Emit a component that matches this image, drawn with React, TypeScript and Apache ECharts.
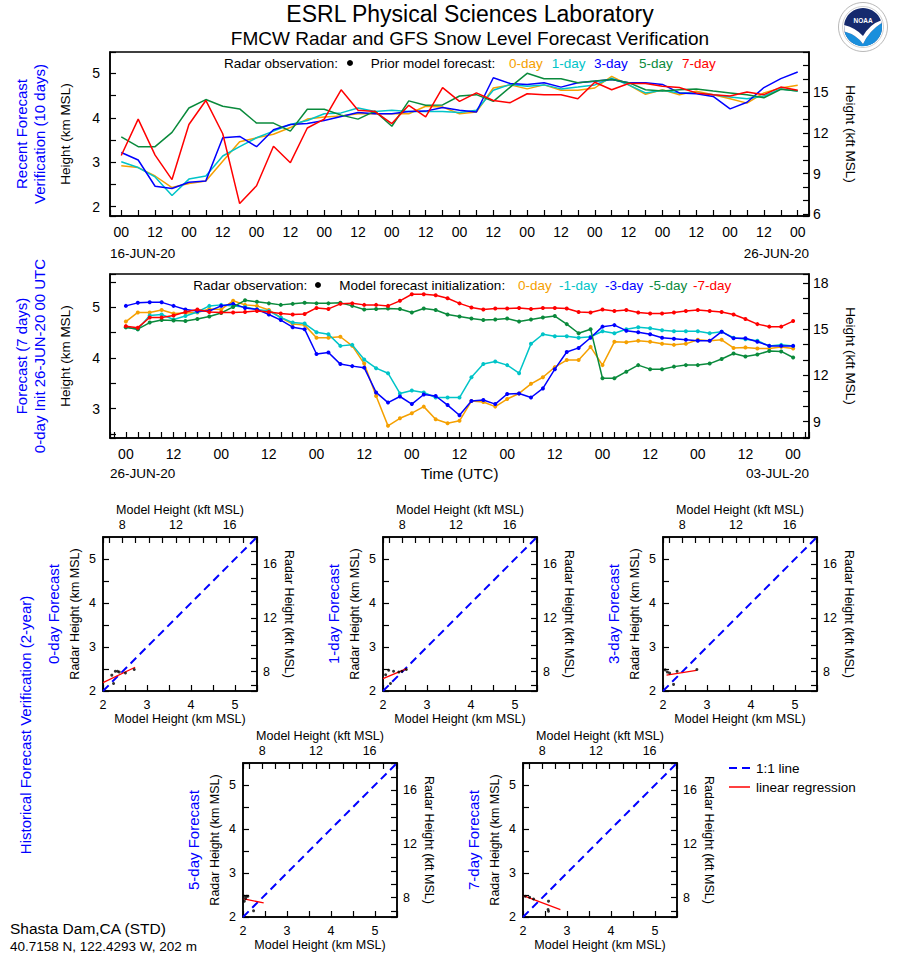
import React, { useEffect, useRef } from 'react';
import * as echarts from 'echarts';

const KFT_PER_KM = 3.28084;
const FONT = '"Liberation Sans", Arial, Helvetica, sans-serif';

// ---------- Recent forecast verification: 16-JUN-20 00 .. 26-JUN-20 00, one value every 6 h
const recentStepHours = 6;
const recentDay0 = [2.92, 2.88, 2.69, 2.43, 2.52, 2.58, 3.02, 3.46, 3.55, 3.63, 3.78, 3.97, 4.02, 4.04, 4.09, 4.09, 4.09, 4.09, 4.26, 4.24, 4.09, 4.13, 4.67, 4.74, 4.65, 4.74, 4.62, 4.62, 4.67, 4.93, 4.74, 4.53, 4.63, 4.52, 4.6, 4.52, 4.43, 4.33, 4.56, 4.67, 4.73];
const recentDay1 = [3.01, 2.88, 2.67, 2.25, 2.62, 2.69, 3.14, 3.35, 3.55, 3.7, 3.85, 3.94, 4.09, 4.11, 4.22, 4.14, 4.17, 4.14, 4.14, 4.14, 4.12, 4.17, 4.62, 4.75, 4.71, 4.74, 4.65, 4.69, 4.74, 4.89, 4.74, 4.56, 4.62, 4.56, 4.56, 4.52, 4.47, 4.43, 4.49, 4.65, 4.6];
const recentDay3 = [3.22, 3.05, 2.46, 2.41, 2.55, 2.58, 3.55, 3.58, 3.35, 3.73, 3.85, 3.87, 3.94, 4.03, 4.12, 4.09, 4.09, 4.14, 4.15, 4.23, 4.17, 4.13, 4.9, 4.77, 4.75, 4.79, 4.69, 4.79, 4.82, 4.86, 4.79, 4.79, 4.75, 4.56, 4.54, 4.48, 4.2, 4.35, 4.68, 4.88, 5.03];
const recentDay5 = [3.57, 3.35, 3.35, 3.67, 4.22, 4.41, 4.26, 4.2, 3.88, 3.88, 3.7, 4.19, 4.19, 4.06, 3.97, 4.15, 3.81, 4.38, 4.28, 4.29, 4.49, 4.52, 4.37, 4.69, 5.0, 4.88, 4.88, 4.79, 4.83, 4.86, 4.79, 4.63, 4.6, 4.63, 4.65, 4.6, 4.56, 4.52, 4.45, 4.64, 4.6];
const recentDay7 = [3.15, 3.97, 3.16, 2.61, 3.85, 4.39, 3.64, 2.07, 2.47, 3.36, 2.99, 3.77, 3.97, 4.63, 4.17, 4.14, 3.87, 4.28, 4.02, 4.68, 4.37, 4.56, 4.39, 4.34, 4.54, 4.52, 4.52, 4.43, 4.8, 4.63, 4.77, 4.77, 4.71, 4.68, 4.56, 4.52, 4.49, 4.58, 4.52, 4.69, 4.62];

// ---------- 7-day forecast, init 26-JUN-20 00 UTC, one value every 3 h
const forecastStepHours = 3;
const fcDay0 = [4.72, 4.9, 4.9, 4.95, 4.88, 4.89, 4.9, 4.97, 4.96, 5.13, 5.05, 5.03, 4.95, 4.8, 4.67, 4.65, 4.4, 4.4, 4.42, 4.24, 3.89, 3.25, 2.66, 2.81, 2.91, 3.04, 2.79, 2.71,
  2.76, 3.15, 3.13, 3.04, 3.19, 3.3, 3.49, 3.62, 3.82, 3.96, 3.96, 4.22, 3.86, 4.32, 4.31, 4.34, 4.32, 4.28, 4.26, 4.28, 4.36, 4.34, 4.36, 4.2, 4.21, 4.19, 4.19, 4.22, 4.19];
const fcDay1 = [4.61, 4.57, 4.84, 4.86, 4.76, 4.83, 4.91, 5.03, 5.05, 5.03, 5.01, 4.96, 4.93, 4.8, 4.7, 4.68, 4.51, 4.47, 4.24, 4.26, 3.97, 3.8, 3.7, 3.3, 3.36, 3.32, 3.22, 3.22,
  3.22, 3.62, 3.88, 3.93, 3.86, 3.7, 4.28, 4.47, 4.43, 4.43, 4.4, 4.42, 4.53, 4.49, 4.57, 4.61, 4.59, 4.55, 4.53, 4.53, 4.53, 4.49, 4.52, 4.4, 4.37, 4.34, 4.24, 4.26, 4.24];
const fcDay3 = [5.03, 5.09, 5.1, 5.1, 5.03, 4.96, 4.93, 4.93, 5.03, 5.07, 4.99, 4.96, 4.86, 4.75, 4.61, 4.57, 4.08, 4.11, 3.88, 3.84, 3.81, 3.32, 3.12, 3.24, 3.09, 3.28, 3.25, 3.07,
  2.87, 3.15, 3.17, 3.09, 3.29, 3.3, 3.22, 3.4, 3.78, 4.12, 4.2, 4.4, 4.62, 4.65, 4.54, 4.51, 4.47, 4.4, 4.38, 4.36, 4.34, 4.34, 4.52, 4.39, 4.39, 4.32, 4.24, 4.24, 4.24];
const fcDay5 = [4.61, 4.57, 4.7, 4.75, 4.74, 4.73, 4.77, 4.82, 4.89, 5.01, 5.14, 5.11, 5.08, 5.05, 5.07, 5.09, 5.08, 5.08, 5.09, 5.03, 4.96, 4.97, 4.98, 4.97, 4.9, 4.98, 4.95, 4.86,
  4.82, 4.78, 4.75, 4.76, 4.78, 4.72, 4.76, 4.8, 4.83, 4.67, 4.49, 4.57, 3.6, 3.6, 3.73, 3.86, 3.78, 3.78, 3.83, 3.86, 3.86, 3.89, 3.98, 4.09, 4.03, 4.07, 4.14, 4.13, 4.01];
const fcDay7 = [4.63, 4.6, 4.8, 4.8, 4.84, 4.91, 4.96, 4.91, 4.9, 4.9, 4.91, 4.93, 4.91, 4.88, 4.86, 4.87, 4.99, 4.97, 5.07, 5.08, 5.05, 5.05, 5.03, 5.13, 5.26, 5.26, 5.24, 5.18,
  5.08, 5.0, 4.96, 4.98, 4.98, 4.99, 4.97, 4.99, 4.99, 4.98, 4.91, 4.9, 4.96, 4.93, 4.95, 4.9, 4.88, 4.88, 4.9, 4.93, 4.95, 4.93, 4.91, 4.86, 4.77, 4.67, 4.62, 4.62, 4.73];

// ---------- Historical verification scatter (model km, radar km)
const scatterTitles = ['0-day Forecast', '1-day Forecast', '3-day Forecast', '5-day Forecast', '7-day Forecast'];
const dots0 = [[2.2, 2.36], [2.24, 2.17], [2.28, 2.45], [2.33, 2.45], [2.37, 2.43], [2.51, 2.41], [2.71, 2.49]];
const dots1 = [[2.06, 2.37], [2.13, 2.47], [2.17, 2.17], [2.24, 2.45], [2.36, 2.43], [2.43, 2.45], [2.53, 2.49]];
const dots3 = [[2.05, 2.48], [2.1, 2.43], [2.15, 2.41], [2.24, 2.15], [2.32, 2.45], [2.77, 2.49]];
const dots5 = [[2.03, 2.47], [2.08, 2.47], [2.11, 2.47], [2.03, 2.36], [2.06, 2.42], [2.24, 2.14]];
const dots7 = [[2.05, 2.47], [2.15, 2.45], [2.24, 2.41], [2.58, 2.36], [2.57, 2.17], [2.58, 2.13]];
const reg0 = [[2.0, 2.19], [2.73, 2.54]];
const reg1 = [[2.0, 2.28], [2.54, 2.51]];
const reg3 = [[2.08, 2.36], [2.76, 2.47]];
const reg5 = [[2.02, 2.41], [2.47, 2.32]];
const reg7 = [[2.02, 2.48], [2.85, 2.17]];
const oneToOne = [[2, 2], [5.5, 5.5]];

const recentTickLabels = { '0': '00', '12': '12' };

// ---------- styles / layout (kept apart from data)
const COLORS = { d0: '#F5A000', d1: '#00C4C8', d3: '#0000FF', d5: '#0A8A3C', d7: '#FF0000' };
const scatterLayout = [
  { left: 103, top: 537 },
  { left: 383, top: 537 },
  { left: 663, top: 537 },
  { left: 243, top: 763 },
  { left: 523, top: 763 },
];
const SC = 154;

echarts.graphic.registerShape('noaaLower', echarts.graphic.extendPath(
  'M -18.5 4.5 Q -6 8 0 17 Q 6 4 18.57 -4 A 19 19 0 0 1 -18.5 4.5 Z', {}));
echarts.graphic.registerShape('noaaBird', echarts.graphic.extendPath(
  'M -18.9 -2 Q -7 1 0 9 Q 7 -3 17.9 -6.5 L 18.57 -4 Q 6 4 0 17 Q -6 8 -18.5 4.5 Z', {}));

const isInt = (v: number) => Math.abs(v - Math.round(v)) < 1e-6;
const hourLabel = (v: number) => {
  if (!isInt(v)) return '';
  const h = ((Math.round(v) % 24) + 24) % 24;
  return (recentTickLabels as any)[String(h)] ?? '';
};

function txt(x: number, y: number, text: string, size: number, o: any = {}) {
  const align = o.align ?? 'left';
  return {
    type: 'text', x, y, rotation: o.rotation ?? 0, silent: true, z: 10,
    style: {
      text, fill: o.color ?? '#000', fontSize: size, fontFamily: FONT, fontWeight: o.weight ?? 'normal',
      textAlign: align, textVerticalAlign: 'middle', align, verticalAlign: 'middle',
    },
  };
}

function axisBase(fontSize: number) {
  return {
    axisLine: { show: true, onZero: false, lineStyle: { color: '#000', width: 1.5 } },
    axisTick: { show: true, inside: true, length: 6, lineStyle: { color: '#000', width: 1.2 } },
    splitLine: { show: false },
    nameTextStyle: { color: '#000', fontFamily: FONT },
    axisLabel: { color: '#000', fontSize, fontFamily: FONT },
  };
}

function buildOption() {
  const grid: any[] = [];
  const xAxis: any[] = [];
  const yAxis: any[] = [];
  const series: any[] = [];
  const frame = { show: true, borderColor: '#000', borderWidth: 1.5, backgroundColor: 'transparent' };

  // ---- line panels
  const panels = [
    { top: 52, kmMin: 1.79, kmMax: 5.48, hMax: 240, step: recentStepHours, sets: [recentDay0, recentDay1, recentDay3, recentDay5, recentDay7], symbols: false, tick: 6 },
    { top: 274, kmMin: 2.42, kmMax: 5.66, hMax: 168, step: forecastStepHours, sets: [fcDay0, fcDay1, fcDay3, fcDay5, fcDay7], symbols: true, tick: 3 },
  ];
  const colorList = [COLORS.d0, COLORS.d1, COLORS.d3, COLORS.d5, COLORS.d7];
  panels.forEach((p, gi) => {
    grid.push({ left: 110, top: p.top, width: 699, height: 164, ...frame });
    const b = axisBase(14);
    xAxis.push({
      ...b, type: 'value', gridIndex: gi, position: 'bottom', min: -4, max: p.hMax + 4,
      minInterval: p.tick, maxInterval: p.tick,
      axisLabel: { ...b.axisLabel, margin: 9, formatter: hourLabel },
    });
    yAxis.push({
      ...b, type: 'value', gridIndex: gi, position: 'left', min: p.kmMin, max: p.kmMax,
      minInterval: 0.5, maxInterval: 0.5,
      name: 'Height (km MSL)', nameLocation: 'middle', nameGap: 38,
      nameTextStyle: { color: '#000', fontFamily: FONT, fontSize: 13.5 },
      axisLabel: { ...b.axisLabel, margin: 10, formatter: (v: number) => (isInt(v) ? String(Math.round(v)) : '') },
    });
    yAxis.push({
      ...b, type: 'value', gridIndex: gi, position: 'right', min: p.kmMin * KFT_PER_KM, max: p.kmMax * KFT_PER_KM,
      minInterval: 1, maxInterval: 1,
      name: 'Height (kft MSL)', nameLocation: 'middle', nameGap: 34, nameRotate: -90,
      nameTextStyle: { color: '#000', fontFamily: FONT, fontSize: 13.5 },
      axisLabel: { ...b.axisLabel, margin: 4, formatter: (v: number) => (isInt(v) && Math.round(v) % 3 === 0 ? String(Math.round(v)) : '') },
    });
    p.sets.forEach((vals, si) => {
      series.push({
        type: 'line', xAxisIndex: gi, yAxisIndex: gi * 2,
        data: vals.map((v, i) => [i * p.step, v]),
        showSymbol: p.symbols, symbol: 'circle', symbolSize: 4,
        lineStyle: { color: colorList[si], width: 1.5 },
        itemStyle: { color: colorList[si] },
        z: 2 + si,
      });
    });
  });

  // ---- scatter panels
  const dotSets = [dots0, dots1, dots3, dots5, dots7];
  const regSets = [reg0, reg1, reg3, reg5, reg7];
  scatterLayout.forEach((l, k) => {
    const gi = 2 + k;
    grid.push({ left: l.left, top: l.top, width: SC, height: SC, ...frame });
    const b = axisBase(12.5);
    const nts = { color: '#000', fontFamily: FONT, fontSize: 12.5 };
    const kmFmt = (v: number) => (isInt(v) ? String(Math.round(v)) : '');
    const kftFmt = (v: number) => (isInt(v) && Math.round(v) % 4 === 0 ? String(Math.round(v)) : '');
    xAxis.push({
      ...b, type: 'value', gridIndex: gi, position: 'bottom', min: 2, max: 5.5, interval: 0.5,
      name: 'Model Height (km MSL)', nameLocation: 'middle', nameGap: 21, nameTextStyle: nts,
      axisLabel: { ...b.axisLabel, margin: 7, formatter: kmFmt },
    });
    xAxis.push({
      ...b, type: 'value', gridIndex: gi, position: 'top', min: 2 * KFT_PER_KM, max: 5.5 * KFT_PER_KM,
      minInterval: 1, maxInterval: 1,
      name: 'Model Height (kft MSL)', nameLocation: 'middle', nameGap: 21, nameTextStyle: nts,
      axisLabel: { ...b.axisLabel, margin: 6, formatter: kftFmt },
    });
    yAxis.push({
      ...b, type: 'value', gridIndex: gi, position: 'left', min: 2, max: 5.5, interval: 0.5,
      name: 'Radar Height (km MSL)', nameLocation: 'middle', nameGap: 22, nameTextStyle: nts,
      axisLabel: { ...b.axisLabel, margin: 7, formatter: kmFmt },
    });
    yAxis.push({
      ...b, type: 'value', gridIndex: gi, position: 'right', min: 2 * KFT_PER_KM, max: 5.5 * KFT_PER_KM,
      minInterval: 1, maxInterval: 1,
      name: 'Radar Height (kft MSL)', nameLocation: 'middle', nameGap: 25, nameRotate: -90, nameTextStyle: nts,
      axisLabel: { ...b.axisLabel, margin: 6, formatter: kftFmt },
    });
    const xi = 2 + k * 2;
    const yi = 4 + k * 2;
    series.push({
      type: 'line', xAxisIndex: xi, yAxisIndex: yi, data: oneToOne, showSymbol: false,
      lineStyle: { color: '#0000FF', width: 2, type: [8, 5] }, z: 2,
    });
    series.push({
      type: 'line', xAxisIndex: xi, yAxisIndex: yi, data: regSets[k], showSymbol: false,
      lineStyle: { color: '#FF0000', width: 1.3 }, z: 3,
    });
    series.push({
      type: 'scatter', xAxisIndex: xi, yAxisIndex: yi, data: dotSets[k], symbol: 'circle', symbolSize: 3,
      itemStyle: { color: '#000' }, z: 4,
    });
  });

  // ---- texts
  const L = 13.5;
  const graphic: any[] = [
    txt(470, 14, 'ESRL Physical Sciences Laboratory', 23, { align: 'center' }),
    txt(470, 38, 'FMCW Radar and GFS Snow Level Forecast Verification', 19, { align: 'center' }),
    // top legend
    txt(224, 63, 'Radar observation:', L),
    { type: 'circle', shape: { cx: 350, cy: 63, r: 3 }, style: { fill: '#000' }, silent: true },
    txt(370.7, 63, 'Prior model forecast:', L),
    txt(509, 63, '0-day', L, { color: COLORS.d0 }),
    txt(551.7, 63, '1-day', L, { color: COLORS.d1 }),
    txt(594, 63, '3-day', L, { color: COLORS.d3 }),
    txt(639, 63, '5-day', L, { color: COLORS.d5 }),
    txt(682, 63, '7-day', L, { color: COLORS.d7 }),
    // middle legend
    txt(193.3, 285, 'Radar observation:', L),
    { type: 'circle', shape: { cx: 318, cy: 285, r: 3 }, style: { fill: '#000' }, silent: true },
    txt(339.3, 285, 'Model forecast initialization:', L),
    txt(518, 285, '0-day', L, { color: COLORS.d0 }),
    txt(559, 285, '-1-day', L, { color: COLORS.d1 }),
    txt(605, 285, '-3-day', L, { color: COLORS.d3 }),
    txt(649, 285, '-5-day', L, { color: COLORS.d5 }),
    txt(693, 285, '-7-day', L, { color: COLORS.d7 }),
    // date labels
    txt(110, 253, '16-JUN-20', L),
    txt(809, 253, '26-JUN-20', L, { align: 'right' }),
    txt(110, 473.5, '26-JUN-20', L),
    txt(809, 473.5, '03-JUL-20', L, { align: 'right' }),
    txt(459.5, 473.5, 'Time (UTC)', 15, { align: 'center' }),
    // left blue labels
    txt(21, 134, 'Recent Forecast', 15, { align: 'center', rotation: Math.PI / 2, color: '#0000FF' }),
    txt(39, 134, 'Verification (10 days)', 15, { align: 'center', rotation: Math.PI / 2, color: '#0000FF' }),
    txt(21, 356, 'Forecast (7 days)', 15, { align: 'center', rotation: Math.PI / 2, color: '#0000FF' }),
    txt(39, 356, '0-day Init 26-JUN-20 00 UTC', 15, { align: 'center', rotation: Math.PI / 2, color: '#0000FF' }),
    txt(25, 725, 'Historical Forecast Verification (2-year)', 15, { align: 'center', rotation: Math.PI / 2, color: '#0000FF' }),
    // scatter legend
    { type: 'line', shape: { x1: 729, y1: 768, x2: 751, y2: 768 }, style: { stroke: '#0000FF', lineWidth: 2, lineDash: [8, 5] }, silent: true },
    txt(756, 768, '1:1 line', L),
    { type: 'line', shape: { x1: 729, y1: 787, x2: 750, y2: 787 }, style: { stroke: '#FF0000', lineWidth: 1.5 }, silent: true },
    txt(756, 787, 'linear regression', L),
    // site
    txt(10, 928, 'Shasta Dam,CA (STD)', 15.5),
    txt(10, 946, '40.7158 N, 122.4293 W, 202 m', 13.5),
    // NOAA logo
    {
      type: 'group', x: 863, y: 27, silent: true,
      children: [
        { type: 'circle', shape: { cx: 0, cy: 0, r: 24.5 }, style: { fill: '#fff', stroke: '#9a9a9a', lineWidth: 0.7 } },
        { type: 'circle', shape: { cx: 0, cy: 0, r: 20.5 }, style: { fill: 'none', stroke: '#b0b0b0', lineWidth: 0.6 } },
        { type: 'circle', shape: { cx: 0, cy: 0, r: 19 }, style: { fill: '#152a6e' } },
        { type: 'noaaLower', style: { fill: '#1a8fdc' } },
        { type: 'noaaBird', style: { fill: '#ffffff' } },
        { type: 'text', x: 0, y: -7, style: { text: 'NOAA', fill: '#fff', fontSize: 6.5, fontWeight: 'bold', fontFamily: FONT, textAlign: 'center', textVerticalAlign: 'middle', align: 'center', verticalAlign: 'middle' } },
      ],
    },
  ];
  scatterLayout.forEach((l, k) => {
    graphic.push(txt(l.left - 49.5, l.top + SC / 2, scatterTitles[k], 15, { align: 'center', rotation: Math.PI / 2, color: '#0000FF' }));
  });

  return {
    animation: false,
    backgroundColor: '#ffffff',
    textStyle: { fontFamily: FONT },
    grid, xAxis, yAxis, series, graphic,
  };
}

export default function App() {
  const ref = useRef<HTMLDivElement>(null);
  useEffect(() => {
    document.body.style.margin = '0';
    if (!ref.current) return;
    const chart = echarts.init(ref.current, undefined, { renderer: 'svg' });
    chart.setOption(buildOption() as any);
    return () => chart.dispose();
  }, []);
  return <div ref={ref} style={{ width: 898, height: 956 }} />;
}
